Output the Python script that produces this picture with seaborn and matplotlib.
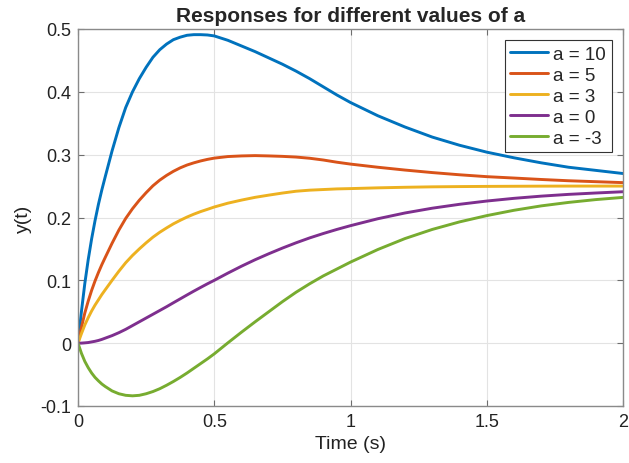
import numpy as np
import pandas as pd
import matplotlib
matplotlib.use("Agg")
import matplotlib.pyplot as plt
import seaborn as sns
from matplotlib.ticker import FormatStrFormatter

# Values
a_values = [10, 5, 3, 0, -3]
time_s = [0, 0.0125, 0.025, 0.0375, 0.05, 0.0625, 0.075, 0.0875, 0.1, 0.125, 0.15, 0.175,
          0.2, 0.225, 0.25, 0.275, 0.3, 0.325, 0.35, 0.375, 0.4, 0.425, 0.45, 0.475,
          0.5, 0.55, 0.6, 0.65, 0.7, 0.75, 0.8, 0.85, 0.9, 0.95,
          1.0, 1.1, 1.2, 1.3, 1.4, 1.5, 1.6, 1.7, 1.8, 1.9, 2.0]

y_a10 = [0, 0.050, 0.095, 0.133, 0.166, 0.195, 0.221, 0.244, 0.265, 0.306, 0.343, 0.375,
         0.400, 0.421, 0.439, 0.455, 0.467, 0.476, 0.483, 0.487, 0.490, 0.491, 0.491, 0.4905,
         0.489, 0.482, 0.473, 0.464, 0.454, 0.444, 0.433, 0.421, 0.408, 0.395,
         0.383, 0.362, 0.344, 0.328, 0.315, 0.304, 0.295, 0.287, 0.280, 0.275, 0.270]
y_a5 = [0, 0.025, 0.048, 0.067, 0.084, 0.099, 0.1125, 0.125, 0.1365, 0.159, 0.180, 0.1985,
        0.214, 0.2275, 0.2395, 0.2505, 0.2595, 0.267, 0.2735, 0.279, 0.2835, 0.287, 0.290, 0.2925,
        0.2945, 0.297, 0.298, 0.2985, 0.298, 0.2973, 0.2962, 0.2943, 0.2915, 0.288,
        0.285, 0.280, 0.2755, 0.2715, 0.268, 0.265, 0.2628, 0.2605, 0.2585, 0.257, 0.2555]
y_a3 = [0, 0.015, 0.029, 0.0406, 0.0512, 0.0606, 0.069, 0.0774, 0.085, 0.100, 0.1145, 0.128,
        0.1396, 0.150, 0.1597, 0.1687, 0.1765, 0.1834, 0.1899, 0.1955, 0.2007, 0.2053, 0.2094, 0.213,
        0.2167, 0.2228, 0.2277, 0.2321, 0.2356, 0.2389, 0.2418, 0.2435, 0.2445, 0.2455,
        0.246, 0.2472, 0.2481, 0.2488, 0.2492, 0.2495, 0.2497, 0.2499, 0.250, 0.250, 0.250]
y_a0 = [0, 0.0001, 0.0005, 0.001, 0.002, 0.003, 0.0043, 0.006, 0.008, 0.012, 0.0167, 0.022,
        0.028, 0.034, 0.040, 0.046, 0.052, 0.058, 0.0643, 0.0705, 0.0767, 0.0828, 0.0887, 0.0945,
        0.100, 0.1115, 0.1225, 0.1328, 0.1423, 0.1513, 0.1597, 0.1675, 0.1745, 0.181,
        0.187, 0.198, 0.2072, 0.2148, 0.221, 0.2262, 0.2305, 0.234, 0.2368, 0.239, 0.241]
y_am3 = [0, -0.016, -0.029, -0.039, -0.0475, -0.0545, -0.060, -0.065, -0.069, -0.076, -0.0805, -0.083,
         -0.0838, -0.083, -0.0805, -0.077, -0.0725, -0.067, -0.061, -0.0545, -0.0475, -0.040, -0.0325, -0.025,
         -0.017, 0.0005, 0.0175, 0.034, 0.050, 0.066, 0.081, 0.0945, 0.107, 0.118,
         0.129, 0.149, 0.1665, 0.181, 0.193, 0.203, 0.2115, 0.2185, 0.224, 0.2285, 0.232]

x_ticks = [0, 0.5, 1, 1.5, 2]
y_ticks = [-0.1, 0, 0.1, 0.2, 0.3, 0.4, 0.5]

colors = ["#0072BD", "#D95319", "#EDB120", "#7E2F8E", "#77AC30"]

# Long table for seaborn
frames = []
for a, ys in zip(a_values, [y_a10, y_a5, y_a3, y_a0, y_am3]):
    frames.append(pd.DataFrame({"t": time_s, "y": ys, "label": f"a = {a}"}))
df = pd.concat(frames, ignore_index=True)
labels = [f"a = {a}" for a in a_values]

sns.set_theme(style="white")
plt.rcParams["font.family"] = ["Liberation Sans", "DejaVu Sans"]
plt.rcParams["axes.unicode_minus"] = False

fig = plt.figure(figsize=(6.29, 4.64), dpi=100)
ax = fig.add_axes([78 / 629, 57 / 464, 545 / 629, 377 / 464])

sns.lineplot(data=df, x="t", y="y", hue="label", hue_order=labels,
             palette=colors, linewidth=2.1, sort=False, estimator=None, ax=ax)

ax.set_xlim(0, 2)
ax.set_ylim(-0.1, 0.5)
ax.set_xticks(x_ticks)
ax.set_yticks(y_ticks)
ax.xaxis.set_major_formatter(FormatStrFormatter("%g"))
ax.yaxis.set_major_formatter(FormatStrFormatter("%g"))
ax.grid(True, color="#e3e3e3", linewidth=0.8)
ax.set_axisbelow(True)
for s in ax.spines.values():
    s.set_color("#8a8a8a")
    s.set_linewidth(1.0)
ax.tick_params(direction="in", length=4, width=0.8, color="#6e6e6e",
               top=True, right=True, bottom=True, left=True,
               labelsize=13, labelcolor="#222222", pad=5)

ax.set_xlabel("Time (s)", fontsize=14, color="#222222", labelpad=4)
ax.set_ylabel("y(t)", fontsize=14, color="#222222", labelpad=6)
ax.set_title("Responses for different values of a", fontsize=15, fontweight="bold", pad=6)

leg = ax.legend(loc="upper right", fontsize=13.5, frameon=True, fancybox=False,
                framealpha=1, edgecolor="#333333", handlelength=2.0,
                borderpad=0.3, labelspacing=0.2, handletextpad=0.3,
                borderaxespad=0.6)
leg.get_frame().set_linewidth(0.8)
for line in leg.get_lines():
    line.set_linewidth(2.1)

fig.savefig("out.png", dpi=100)
